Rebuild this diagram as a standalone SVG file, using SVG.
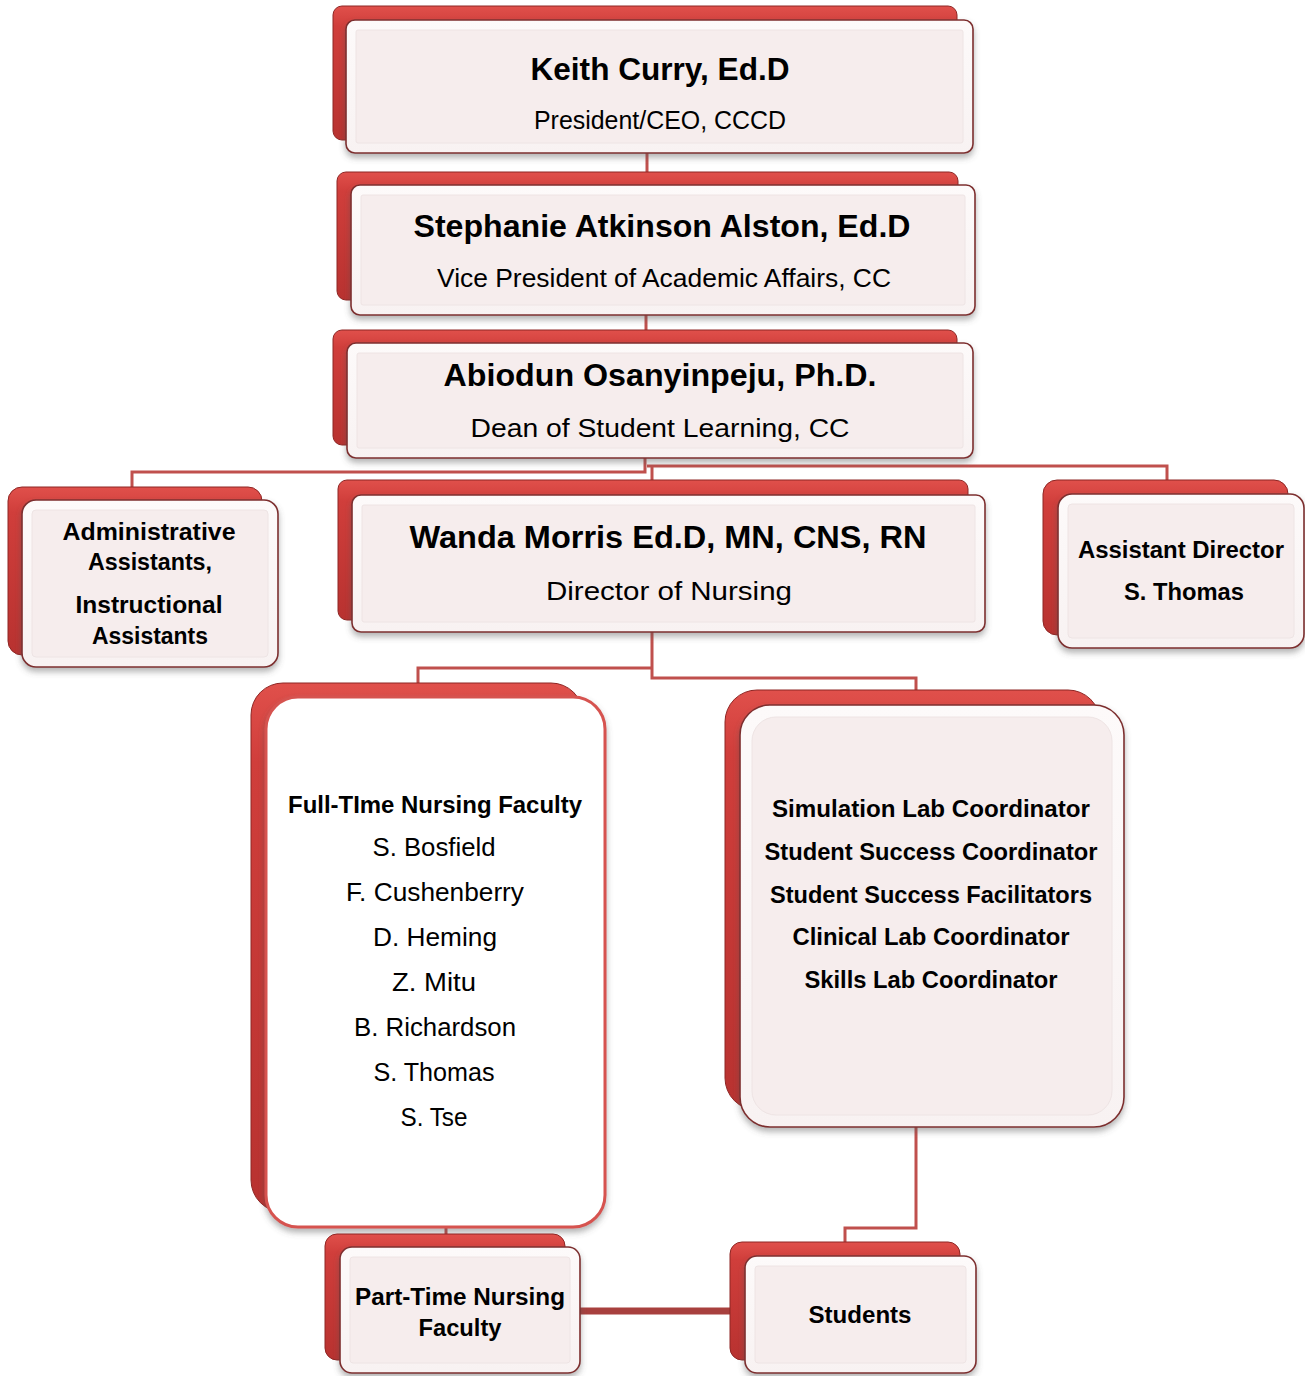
<svg xmlns="http://www.w3.org/2000/svg" width="1305" height="1376" viewBox="0 0 1305 1376">
<defs>
<linearGradient id="gRed" x1="0" y1="0" x2="0" y2="1">
<stop offset="0" stop-color="#e0504b"/>
<stop offset="0.15" stop-color="#d03e3b"/>
<stop offset="1" stop-color="#b83230"/>
</linearGradient>
<linearGradient id="gPink" x1="0" y1="0" x2="0" y2="1">
<stop offset="0" stop-color="#fdfafa"/>
<stop offset="1" stop-color="#f8f2f2"/>
</linearGradient>
<filter id="sh" x="-10%" y="-10%" width="120%" height="130%">
<feGaussianBlur in="SourceAlpha" stdDeviation="3"/>
<feOffset dx="0" dy="4" result="o"/>
<feFlood flood-color="#555" flood-opacity="0.45"/>
<feComposite in2="o" operator="in"/>
<feMerge><feMergeNode/><feMergeNode in="SourceGraphic"/></feMerge>
</filter>
</defs>
<style>
.back{fill:url(#gRed);stroke:#8e2624;stroke-width:1}
.front{fill:url(#gPink);stroke:#7d2f2f;stroke-width:1.6;filter:url(#sh)}
.inner{fill:#f6eded;stroke:#eee4e4;stroke-width:1}
.white{fill:#ffffff;stroke:#d65350;stroke-width:3;filter:url(#sh)}
.link{fill:none;stroke:#c0504d;stroke-width:3}
.thick{fill:none;stroke:#a8403e;stroke-width:7}
.t{font-family:"Liberation Sans",Arial,sans-serif;fill:#000;text-anchor:middle}
.b{font-weight:bold}
</style>

<g id="connectors">
<path class="link" d="M647 150 V175"/>
<path class="link" d="M646 312 V333"/>
<path class="link" d="M645 455 V472 H132 V489"/>
<path class="link" d="M647 466 H1167 V482"/>
<path class="link" d="M652 466 V483"/>
<path class="link" d="M652 630 V678 H916 V692"/>
<path class="link" d="M652 668 H418 V686"/>
<path class="link" d="M446 1225 V1236"/>
<path class="link" d="M916 1125 V1228 H845 V1244"/>
<path class="thick" d="M578 1311 H747"/>
</g>

<g id="keith">
<rect class="back" x="333" y="6" width="624" height="134" rx="9"/>
<rect class="front" x="346" y="20" width="627" height="133" rx="9"/>
<rect class="inner" x="356" y="30" width="607" height="113" rx="2"/>
<text class="t b" x="660" y="80" font-size="31" textLength="259" lengthAdjust="spacingAndGlyphs">Keith Curry, Ed.D</text>
<text class="t" x="660" y="129" font-size="25" textLength="252" lengthAdjust="spacingAndGlyphs">President/CEO, CCCD</text>
</g>

<g id="stephanie">
<rect class="back" x="337" y="172" width="621" height="128" rx="9"/>
<rect class="front" x="351" y="185" width="624" height="130" rx="9"/>
<rect class="inner" x="361" y="195" width="604" height="110" rx="2"/>
<text class="t b" x="662" y="237" font-size="31" textLength="497" lengthAdjust="spacingAndGlyphs">Stephanie Atkinson Alston, Ed.D</text>
<text class="t" x="664" y="287" font-size="25" textLength="454" lengthAdjust="spacingAndGlyphs">Vice President of Academic Affairs, CC</text>
</g>

<g id="abiodun">
<rect class="back" x="333" y="330" width="624" height="115" rx="9"/>
<rect class="front" x="347" y="343" width="626" height="115" rx="9"/>
<rect class="inner" x="357" y="353" width="606" height="95" rx="2"/>
<text class="t b" x="660" y="386" font-size="31" textLength="433" lengthAdjust="spacingAndGlyphs">Abiodun Osanyinpeju, Ph.D.</text>
<text class="t" x="660" y="437" font-size="26" textLength="379" lengthAdjust="spacingAndGlyphs">Dean of Student Learning, CC</text>
</g>

<g id="admin">
<rect class="back" x="8" y="487" width="254" height="168" rx="14"/>
<rect class="front" x="22" y="500" width="256" height="167" rx="14"/>
<rect class="inner" x="32" y="510" width="236" height="147" rx="4"/>
<text class="t b" x="149" y="540" font-size="23" textLength="173" lengthAdjust="spacingAndGlyphs">Administrative</text>
<text class="t b" x="150" y="570" font-size="23" textLength="124" lengthAdjust="spacingAndGlyphs">Assistants,</text>
<text class="t b" x="149" y="613" font-size="23" textLength="147" lengthAdjust="spacingAndGlyphs">Instructional</text>
<text class="t b" x="150" y="644" font-size="23" textLength="116" lengthAdjust="spacingAndGlyphs">Assistants</text>
</g>

<g id="wanda">
<rect class="back" x="338" y="480" width="630" height="140" rx="9"/>
<rect class="front" x="352" y="495" width="633" height="137" rx="9"/>
<rect class="inner" x="362" y="505" width="613" height="117" rx="2"/>
<text class="t b" x="668" y="548" font-size="32" textLength="517" lengthAdjust="spacingAndGlyphs">Wanda Morris Ed.D, MN, CNS, RN</text>
<text class="t" x="669" y="600" font-size="26" textLength="246" lengthAdjust="spacingAndGlyphs">Director of Nursing</text>
</g>

<g id="assistant-director">
<rect class="back" x="1043" y="480" width="245" height="155" rx="14"/>
<rect class="front" x="1058" y="494" width="246" height="154" rx="14"/>
<rect class="inner" x="1068" y="504" width="226" height="134" rx="4"/>
<text class="t b" x="1181" y="558" font-size="23" textLength="206" lengthAdjust="spacingAndGlyphs">Assistant Director</text>
<text class="t b" x="1184" y="600" font-size="23" textLength="120" lengthAdjust="spacingAndGlyphs">S. Thomas</text>
</g>

<g id="fulltime">
<rect class="back" x="251" y="683" width="332" height="529" rx="32"/>
<rect class="white" x="266" y="697" width="339" height="530" rx="32"/>
<text class="t b" x="435" y="813" font-size="23" textLength="294" lengthAdjust="spacingAndGlyphs">Full-TIme Nursing Faculty</text>
<text class="t" x="434" y="856" font-size="25" textLength="123" lengthAdjust="spacingAndGlyphs">S. Bosfield</text>
<text class="t" x="435" y="901" font-size="25" textLength="178" lengthAdjust="spacingAndGlyphs">F. Cushenberry</text>
<text class="t" x="435" y="946" font-size="25" textLength="124" lengthAdjust="spacingAndGlyphs">D. Heming</text>
<text class="t" x="434" y="991" font-size="25" textLength="84" lengthAdjust="spacingAndGlyphs">Z. Mitu</text>
<text class="t" x="435" y="1036" font-size="25" textLength="162" lengthAdjust="spacingAndGlyphs">B. Richardson</text>
<text class="t" x="434" y="1081" font-size="25" textLength="121" lengthAdjust="spacingAndGlyphs">S. Thomas</text>
<text class="t" x="434" y="1126" font-size="25" textLength="67" lengthAdjust="spacingAndGlyphs">S. Tse</text>
</g>

<g id="coordinators">
<rect class="back" x="725" y="690" width="375" height="420" rx="32"/>
<rect class="front" x="740" y="705" width="384" height="422" rx="30"/>
<rect class="inner" x="752" y="717" width="360" height="398" rx="24"/>
<text class="t b" x="931" y="817" font-size="23" textLength="318" lengthAdjust="spacingAndGlyphs">Simulation Lab Coordinator</text>
<text class="t b" x="931" y="860" font-size="23" textLength="333" lengthAdjust="spacingAndGlyphs">Student Success Coordinator</text>
<text class="t b" x="931" y="903" font-size="23" textLength="322" lengthAdjust="spacingAndGlyphs">Student Success Facilitators</text>
<text class="t b" x="931" y="945" font-size="23" textLength="277" lengthAdjust="spacingAndGlyphs">Clinical Lab Coordinator</text>
<text class="t b" x="931" y="988" font-size="23" textLength="253" lengthAdjust="spacingAndGlyphs">Skills Lab Coordinator</text>
</g>

<g id="parttime">
<rect class="back" x="325" y="1234" width="240" height="126" rx="12"/>
<rect class="front" x="340" y="1247" width="240" height="126" rx="12"/>
<rect class="inner" x="350" y="1257" width="220" height="106" rx="3"/>
<text class="t b" x="460" y="1305" font-size="23" textLength="210" lengthAdjust="spacingAndGlyphs">Part-Time Nursing</text>
<text class="t b" x="460" y="1336" font-size="23" textLength="83" lengthAdjust="spacingAndGlyphs">Faculty</text>
</g>

<g id="students">
<rect class="back" x="730" y="1242" width="230" height="118" rx="12"/>
<rect class="front" x="745" y="1256" width="231" height="117" rx="12"/>
<rect class="inner" x="755" y="1266" width="211" height="97" rx="3"/>
<text class="t b" x="860" y="1323" font-size="23" textLength="103" lengthAdjust="spacingAndGlyphs">Students</text>
</g>
</svg>
